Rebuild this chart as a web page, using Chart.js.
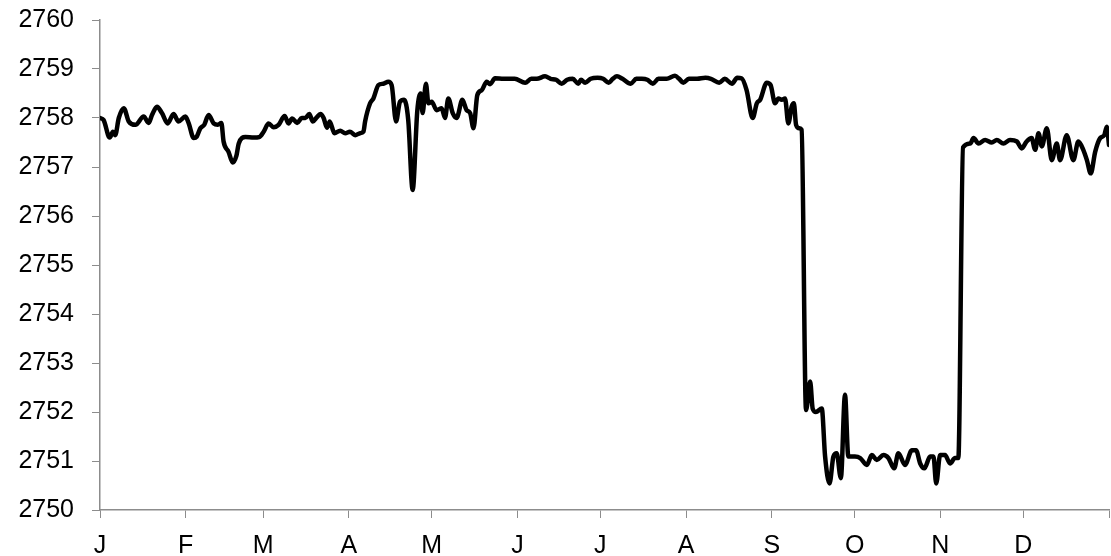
<!DOCTYPE html>
<html>
<head>
<meta charset="utf-8">
<script src="https://cdn.jsdelivr.net/npm/chart.js@4/dist/chart.umd.min.js"></script>
<style>
  html, body { margin: 0; padding: 0; background: #fff; }
  #wrap { width: 1111px; height: 556px; }
</style>
</head>
<body>
<div id="wrap"><canvas id="levelChart"></canvas></div>
<script>
// Day of year (0 = 1 Jan) and reading
const days = [
  0, 1.3, 3.5, 4.7, 5.5, 6.8, 8.6, 10.4, 12.8, 15.8, 17.6, 18.8, 20.6, 22.4, 24.5, 26.6, 28.4, 30.9,
  32.1, 33.9, 35, 36.3, 37.7, 39.3, 41.1, 42.6, 43.9, 44.7, 46.5, 48, 49.3, 50.2, 52.6, 55.6, 57.6,
  59.2, 61, 62.8, 64.6, 66.8, 68.2, 69.5, 71.3, 73, 74.3, 75.7, 77, 78.5, 79.7, 80.9, 82.1, 83.1,
  84.8, 86.9, 88.7, 90.4, 92.3, 94.1, 95.3, 95.9, 97.7, 98.9, 100.7, 102.5, 104.3, 105.5, 107.1,
  108.5, 110, 111.5, 113.1, 114.8, 116, 116.7, 117.9, 118.8, 120, 121.8, 123.6, 124.8, 126, 127.6,
  129, 131.1, 132.6, 133.9, 135.1, 136.5, 138.1, 139.9, 141.1, 142.9,
  146, 150, 153.8, 156, 158, 161, 163, 165, 167, 169, 171, 173, 174, 175.5, 177.5, 180, 182, 184,
  185.5, 187, 189, 192, 194, 196, 198, 200, 202, 205, 208, 209.5, 211, 213, 216, 219, 221, 224,
  226, 228.6, 230.5, 232.1, 233.9, 236.1, 237.6, 238.8, 241.2, 242.6, 244.2, 245.4, 246.6, 247.8,
  249, 250.2, 251, 251.8, 253, 253.8, 255.4, 256.9, 257.8, 259, 261.1, 262.3, 263.9, 265.3, 266.5,
  268, 269.5, 270.7, 273.1, 275, 277.4, 279.2, 281, 283.4, 285.2, 287.3, 288.8, 291.2, 293.7, 295.2,
  296.7, 298.2, 300.3, 301.5, 302.5, 303.9, 305.7, 307.5, 309.3, 310.5, 312.2, 314.8, 316, 317.8,
  320.2, 322.6, 324.4, 326.8, 329.2, 331.7, 333.4, 335.2, 337, 338.3, 339.5, 340.7, 342.5, 344.3,
  346.1, 347.3, 349.7, 352.1, 353.9, 355.7, 357, 358.4, 360, 361.8, 363.3, 364.2, 365
];
const levels = [
  2758.0, 2757.96, 2757.6, 2757.72, 2757.65, 2758.0, 2758.2, 2757.93, 2757.86, 2758.03, 2757.9, 2758.06, 2758.23, 2758.1, 2757.89, 2758.08, 2757.93, 2758.03,
  2757.89, 2757.59, 2757.62, 2757.79, 2757.86, 2758.06, 2757.89, 2757.86, 2757.9, 2757.52, 2757.31, 2757.09, 2757.22, 2757.48, 2757.61, 2757.6, 2757.61,
  2757.72, 2757.89, 2757.81, 2757.86, 2758.04, 2757.89, 2757.99, 2757.9, 2758.0, 2758.0, 2758.08, 2757.93, 2758.02, 2758.08, 2758.0, 2757.8, 2757.93,
  2757.69, 2757.74, 2757.69, 2757.72, 2757.65, 2757.69, 2757.72, 2757.93, 2758.3, 2758.4, 2758.67, 2758.7, 2758.74, 2758.67, 2757.93,
  2758.33, 2758.37, 2757.96, 2756.53, 2758.16, 2758.5, 2758.1, 2758.7, 2758.3, 2758.33, 2758.16, 2758.2, 2758.0, 2758.4, 2758.1,
  2758.0, 2758.37, 2758.16, 2758.1, 2757.79, 2758.47, 2758.57, 2758.74, 2758.69, 2758.81,
  2758.8, 2758.8, 2758.72, 2758.8, 2758.8, 2758.85, 2758.8, 2758.78, 2758.7, 2758.78, 2758.8, 2758.7, 2758.78, 2758.72, 2758.8, 2758.82, 2758.8, 2758.72,
  2758.8, 2758.85, 2758.8, 2758.7, 2758.8, 2758.8, 2758.78, 2758.7, 2758.8, 2758.8, 2758.86, 2758.8, 2758.72, 2758.8, 2758.8, 2758.82, 2758.8, 2758.72,
  2758.8, 2758.7, 2758.82, 2758.81, 2758.57, 2758.0, 2758.3, 2758.37, 2758.72, 2758.67, 2758.3, 2758.4, 2758.37, 2758.4,
  2757.89, 2758.23, 2758.3, 2757.86, 2757.79, 2757.76, 2752.04, 2752.62, 2752.07, 2752.0, 2752.07, 2751.09, 2750.54, 2751.09, 2751.16,
  2750.65, 2752.35, 2751.09, 2751.09, 2751.06, 2750.92, 2751.12, 2751.02, 2751.12, 2751.06, 2750.85, 2751.16, 2750.92, 2751.22, 2751.22,
  2750.95, 2750.85, 2751.09, 2751.09, 2750.54, 2751.12, 2751.12, 2750.95, 2751.06, 2751.06, 2757.4, 2757.48, 2757.59, 2757.48,
  2757.55, 2757.5, 2757.55, 2757.48, 2757.55, 2757.52, 2757.38, 2757.52, 2757.59, 2757.35, 2757.69, 2757.42, 2757.79, 2757.14,
  2757.48, 2757.14, 2757.65, 2757.14, 2757.52, 2757.35, 2757.14, 2756.87, 2757.31, 2757.59, 2757.65, 2757.82, 2757.45
];

// Month starts and their labels (last tick closes the year)
const monthStarts = [0, 31, 59, 90, 120, 151, 181, 212, 243, 273, 304, 334, 365];
const monthLabels = ["J", "F", "M", "A", "M", "J", "J", "A", "S", "O", "N", "D", ""];
const yMin = 2750;
const yMax = 2760;

const axisGrey = "#8c8c8c";
const tickFont = { family: "'Liberation Sans', Arial, sans-serif", size: 25 };

const points = days.map((d, i) => ({ x: d, y: levels[i] }));

const ctx = document.getElementById("levelChart").getContext("2d");
new Chart(ctx, {
  type: "line",
  data: {
    datasets: [{
      data: points,
      borderColor: "#000",
      borderWidth: 4.5,
      pointRadius: 0,
      cubicInterpolationMode: "monotone",
      borderJoinStyle: "round",
      borderCapStyle: "round",
      fill: false
    }]
  },
  options: {
    responsive: true,
    maintainAspectRatio: false,
    animation: false,
    layout: { padding: { top: 20, right: 2, left: 0, bottom: 0 } },
    plugins: { legend: { display: false }, tooltip: { enabled: false } },
    scales: {
      x: {
        type: "linear",
        min: 0,
        max: 365,
        afterBuildTicks: scale => { scale.ticks = monthStarts.map(v => ({ value: v })); },
        afterFit: scale => {
          scale.height = 46;
          scale.paddingLeft = 0;
          scale.paddingRight = 0;
        },
        ticks: {
          autoSkip: false,
          maxRotation: 0,
          padding: 13,
          color: "#000",
          font: tickFont,
          callback: (value) => monthLabels[monthStarts.indexOf(value)]
        },
        grid: { drawOnChartArea: false, drawTicks: true, tickLength: 8, color: axisGrey },
        border: { color: axisGrey, width: 1.5 }
      },
      y: {
        min: yMin,
        max: yMax,
        afterFit: scale => {
          scale.width = 100;
          scale.paddingTop = 0;
          scale.paddingBottom = 0;
        },
        ticks: { stepSize: 1, padding: 18, color: "#000", font: tickFont, callback: v => String(v) },
        grid: { drawOnChartArea: false, drawTicks: true, tickLength: 8, color: axisGrey },
        border: { color: axisGrey, width: 1.5 }
      }
    }
  }
});
</script>
</body>
</html>
